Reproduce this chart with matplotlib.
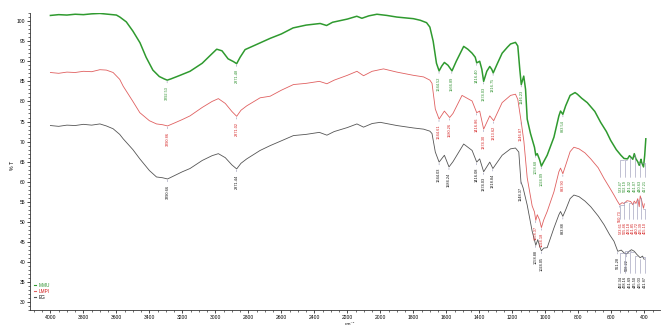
import matplotlib
matplotlib.use("Agg")
import matplotlib.pyplot as plt
from matplotlib.ticker import MultipleLocator
from matplotlib.lines import Line2D

plt.rcParams['font.family'] = ['Liberation Sans', 'DejaVu Sans']

# --- spectra (wavenumber cm-1, %T) ---
mmu_wn = [4000, 3950, 3900, 3850, 3800, 3750, 3700, 3650, 3600, 3579, 3540, 3500,
          3457, 3420, 3379, 3340, 3310, 3292, 3270, 3220, 3154, 3080, 3030, 2992,
          2960, 2923, 2890, 2871, 2850, 2820, 2760, 2668, 2600, 2529, 2450, 2365,
          2326, 2290, 2200, 2143, 2112, 2070, 2021, 1960, 1900, 1800, 1758, 1720,
          1700, 1680, 1660, 1644, 1628, 1612, 1590, 1566, 1540, 1495, 1470, 1444,
          1425, 1416, 1398, 1385, 1374, 1355, 1337, 1325, 1316, 1290, 1262, 1230,
          1211, 1181, 1167, 1155, 1146, 1131, 1120, 1110, 1090, 1066, 1058, 1049,
          1035, 1024, 1010, 989, 948, 918, 908, 894, 877, 850, 820, 806, 780, 746,
          700, 665, 630, 604, 570, 542, 523, 502, 490, 481, 470, 461, 451, 440,
          431, 420, 417, 405, 398, 391]
mmu_t = [101.4, 101.6, 101.5, 101.7, 101.6, 101.8, 101.9, 101.7, 101.5, 101.0, 99.8, 97.5,
         94.6, 91.0, 87.8, 86.2, 85.6, 85.3, 85.6, 86.4, 87.5, 89.5, 91.5, 93.0,
         92.6, 90.6, 89.9, 89.4, 91.0, 92.9, 94.0, 95.7, 96.8, 98.3, 99.0, 99.4,
         98.9, 99.7, 100.5, 101.2, 100.7, 101.3, 101.7, 101.4, 101.0, 100.6, 100.2, 99.6,
         98.5, 95.0, 89.5, 87.6, 88.8, 89.7, 89.0, 87.6, 90.0, 93.7, 93.0, 92.0,
         91.0, 89.6, 90.0, 88.0, 85.0, 87.5, 88.7, 88.0, 87.1, 89.5, 92.0, 93.5,
         94.3, 94.7, 93.8, 88.0, 84.2, 86.3, 83.0, 75.6, 72.0, 68.6, 66.6, 67.0,
         65.5, 63.9, 65.0, 66.6, 71.1, 76.4, 77.6, 76.8, 78.9, 81.5, 82.2, 81.8, 80.8, 79.7,
         77.5, 74.8, 72.5, 70.3, 68.0, 66.6, 65.8, 65.7, 66.5, 66.1, 65.6, 67.0, 65.7, 65.0,
         64.1, 65.6, 64.9, 63.7, 66.5, 70.7]

lmpi_wn = [4000, 3950, 3900, 3850, 3800, 3750, 3700, 3661, 3620, 3580, 3559, 3500,
           3458, 3400, 3357, 3320, 3290, 3250, 3200, 3154, 3080, 3020, 2982, 2940,
           2900, 2871, 2845, 2810, 2729, 2668, 2600, 2527, 2450, 2370, 2324, 2280,
           2200, 2142, 2102, 2050, 1981, 1900, 1800, 1738, 1700, 1687, 1667, 1644,
           1612, 1580, 1560, 1505, 1444, 1416, 1398, 1374, 1337, 1313, 1262, 1211,
           1181, 1167, 1146, 1130, 1110, 1080, 1066, 1058, 1049, 1035, 1024, 1010,
           989, 948, 918, 908, 894, 877, 850, 827, 796, 760, 725, 680, 644, 610,
           584, 565, 550, 535, 523, 505, 483, 470, 461, 451, 440, 431, 425, 417,
           410, 405, 400]
lmpi_t = [87.2, 87.0, 87.3, 87.2, 87.5, 87.4, 87.9, 87.8, 87.2, 85.5, 83.8, 80.0,
          77.2, 75.2, 74.4, 74.2, 73.9, 74.6, 75.5, 76.4, 78.5, 80.0, 80.7, 79.5,
          77.5, 76.3, 77.8, 78.9, 80.9, 81.3, 82.8, 84.2, 84.5, 85.0, 84.4, 85.3,
          86.5, 87.5, 86.4, 87.5, 88.1, 87.3, 86.5, 86.1, 85.3, 84.5, 78.1, 75.6,
          77.6, 76.0, 77.0, 81.5, 80.1, 77.2, 77.6, 73.1, 76.4, 75.2, 79.7, 81.5,
          81.8, 80.5, 74.8, 70.0, 61.0, 54.0, 52.5, 50.4, 51.8, 50.5, 48.6, 50.5,
          52.6, 57.5, 62.5, 63.4, 62.0, 64.1, 67.5, 68.6, 68.2, 67.2, 65.7, 63.5, 60.8, 58.5,
          56.7, 55.3, 54.3, 54.8, 54.6, 55.3, 55.1, 54.3, 55.2, 54.6, 55.8, 53.8, 56.5, 55.5,
          54.2, 53.4, 54.5]

eg_wn = [4000, 3950, 3900, 3850, 3800, 3750, 3700, 3661, 3620, 3580, 3559, 3500,
         3458, 3400, 3357, 3320, 3290, 3250, 3200, 3154, 3080, 3020, 2982, 2940,
         2900, 2871, 2845, 2810, 2729, 2668, 2600, 2527, 2450, 2370, 2324, 2280,
         2200, 2142, 2102, 2050, 2001, 1900, 1800, 1738, 1700, 1687, 1667, 1644,
         1612, 1584, 1560, 1495, 1444, 1416, 1398, 1374, 1337, 1318, 1262, 1211,
         1181, 1161, 1148, 1135, 1110, 1080, 1066, 1058, 1046, 1035, 1024, 1010,
         989, 948, 918, 908, 894, 877, 850, 827, 796, 760, 725, 680, 644, 610,
         584, 561, 540, 523, 508, 492, 478, 461, 445, 425, 411, 401]
eg_t = [74.0, 73.8, 74.1, 74.0, 74.3, 74.1, 74.4, 73.9, 73.2, 71.8, 70.7, 68.0,
        65.7, 62.8, 61.2, 61.0, 60.7, 61.5, 62.5, 63.3, 65.3, 66.5, 67.0, 66.0,
        64.2, 63.2, 64.6, 65.7, 67.8, 69.0, 70.2, 71.5, 71.8, 72.3, 71.6, 72.5,
        73.5, 74.4, 73.6, 74.5, 74.8, 74.0, 73.4, 73.1, 72.6, 72.0, 67.4, 64.9,
        66.6, 63.7, 65.0, 69.4, 67.8, 64.9, 65.7, 62.5, 64.9, 63.3, 66.6, 68.2,
        68.4, 67.4, 60.0, 58.5, 54.2, 47.7, 45.5, 44.2, 45.6, 44.0, 42.8, 43.5,
        43.6, 48.5, 51.8, 52.6, 51.4, 53.0, 55.8, 56.7, 56.3, 55.2, 53.8, 51.5, 49.3, 46.8,
        45.2, 42.7, 43.0, 42.3, 42.0, 42.7, 43.1, 42.7, 41.9, 41.1, 41.5, 40.7]

# labelled peaks (cm-1)
mmu_peaks = [3292.53, 2871.48, 1644.52, 1566.89, 1416.40, 1374.03, 1316.75,
             1146.23, 1058.68, 1024.09, 893.54]
lmpi_peaks = [3290.86, 2871.02, 1644.61, 1580.26, 1416.86, 1374.30, 1313.62,
              1146.87, 1058.37, 1024.18, 893.90, 550.73]
eg_peaks = [3290.66, 2871.44, 1644.03, 1584.24, 1416.08, 1374.03, 1318.84,
            1148.37, 1058.88, 1024.05, 893.88, 561.28, 508.22]

# low-wavenumber clusters, labels fanned out below the trace
mmu_cluster = [523.47, 502.19, 481.32, 461.07, 440.63, 417.21]
lmpi_cluster = [523.61, 505.46, 483.18, 461.85, 440.72, 425.39, 405.10]
eg_cluster = [492.34, 478.16, 461.69, 445.50, 425.03, 411.87]

series = [
    ("MMU", mmu_wn, mmu_t, mmu_peaks, mmu_cluster, "#2f9a2f", 1.1, 60.5),
    ("LMPI", lmpi_wn, lmpi_t, lmpi_peaks, lmpi_cluster, "#e06060", 0.6, 50.0),
    ("EG", eg_wn, eg_t, eg_peaks, eg_cluster, "#555555", 0.6, 36.5),
]
text_colors = {"MMU": "#2a8f2a", "LMPI": "#d42020", "EG": "#111111"}

fig = plt.figure(figsize=(6.62, 3.26), dpi=100)
ax = fig.add_axes([0.045, 0.048, 0.952, 0.912])


def t_at(wn, t, x):
    # value of the trace at wavenumber x (for placing labels)
    for i in range(len(wn) - 1):
        if wn[i] >= x >= wn[i + 1]:
            f = (wn[i] - x) / (wn[i] - wn[i + 1])
            return t[i] + f * (t[i + 1] - t[i])
    return t[-1]


for name, wn, t, peaks, cluster, col, lw, cl_y in series:
    ax.plot(wn, t, color=col, lw=lw, label=name)
    tc = text_colors[name]
    for p in peaks:
        y0 = t_at(wn, t, p)
        ax.annotate(f"{p:.2f}", xy=(p, y0 - 0.3), xytext=(p, y0 - 1.4),
                    rotation=90, ha="center", va="top", fontsize=2.8, color=tc,
                    arrowprops=dict(arrowstyle="-", color="#9090b0", lw=0.4,
                                    shrinkA=0, shrinkB=0))
    n = len(cluster)
    for k, p in enumerate(cluster):
        y0 = t_at(wn, t, p)
        xt = 545 - k * (545 - 398) / max(n - 1, 1)
        ax.annotate(f"{p:.2f}", xy=(p, y0 - 0.3), xytext=(xt, cl_y),
                    rotation=90, ha="center", va="top", fontsize=2.8, color=tc,
                    arrowprops=dict(arrowstyle="-", color="#9090b0", lw=0.4,
                                    shrinkA=0, shrinkB=0,
                                    connectionstyle="angle,angleA=90,angleB=0,rad=0"))

ax.set_xlim(4125, 305)
ax.set_ylim(28, 102)
ax.set_xticks(range(400, 4001, 200))
ax.xaxis.set_minor_locator(MultipleLocator(50))
ax.yaxis.set_major_locator(MultipleLocator(5))
ax.yaxis.set_minor_locator(MultipleLocator(1))
ax.tick_params(axis="both", which="major", labelsize=3.6, length=2.2, width=0.5, pad=0.8)
ax.tick_params(axis="both", which="minor", length=1.1, width=0.4)
for side in ("top", "right"):
    ax.spines[side].set_visible(False)
for side in ("left", "bottom"):
    ax.spines[side].set_linewidth(0.6)
    ax.spines[side].set_color("#333333")

fig.text(12 / 662, 1 - 165 / 326, "% T", rotation=90, fontsize=3.8,
         ha="center", va="center")
fig.text(350 / 662, 0.0, "cm⁻¹", fontsize=3.2, ha="center", va="bottom",
         family=["DejaVu Sans"])

handles = [Line2D([], [], color=s[5], lw=0.8) for s in series]
leg = ax.legend(handles, [s[0] for s in series], loc="lower left",
                bbox_to_anchor=(0.003, 0.03), fontsize=3.4, frameon=False,
                handlelength=0.6, handletextpad=0.4, labelspacing=0.15,
                borderaxespad=0)
for txt, s in zip(leg.get_texts(), series):
    txt.set_color(text_colors[s[0]])

fig.savefig("out.png", dpi=100)
